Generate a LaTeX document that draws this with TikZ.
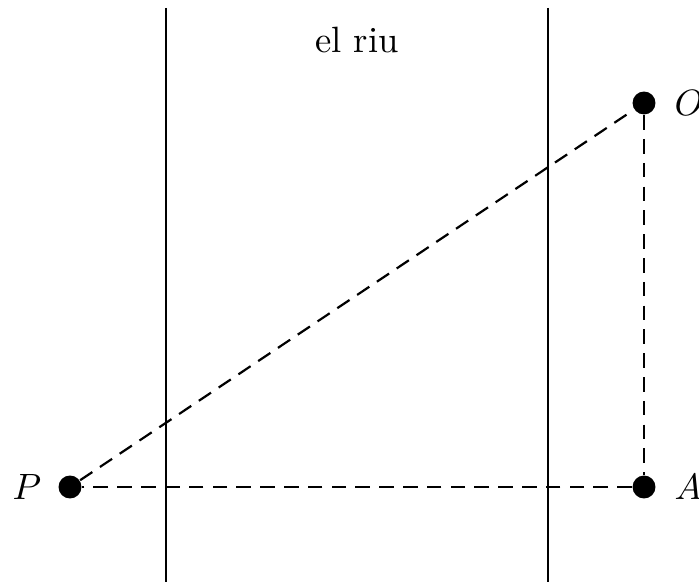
\documentclass[tikz,border=0pt]{standalone}
\usetikzlibrary{positioning}
\tikzset{
  dot/.style={circle, fill=black, inner sep=0pt, minimum size=0.22cm},
  bank/.style={line width=0.8pt},
  guide/.style={line width=0.6pt, dash pattern=on 4pt off 2.5pt}
}
\begin{document}
\begin{tikzpicture}[x=0.0096cm, y=-0.0096cm]
  \useasboundingbox (0,0) rectangle (699,582);
  % the river banks
  \coordinate (bl1) at (166,8);
  \coordinate (bl2) at (166,582);
  \coordinate (br1) at (548,8);
  \coordinate (br2) at (548,582);
  \draw[bank] (bl1) -- (bl2);
  \draw[bank] (br1) -- (br2);
  \node (riu) at (357,40) {el riu};
  % points
  \node[dot] (P) at (70,487) {};
  \node[dot] (O) at (644,103) {};
  \node[dot] (A) at (644,487) {};
  \node[left=1pt of P] (lP) {$P$};
  \node[right=1.5pt of O] (lO) {$O$};
  \node[right=1.5pt of A] (lA) {$A$};
  % triangle
  \draw[guide] (P) -- (O);
  \draw[guide] (O) -- (A);
  \draw[guide] (A) -- (P);
\end{tikzpicture}
\end{document}
